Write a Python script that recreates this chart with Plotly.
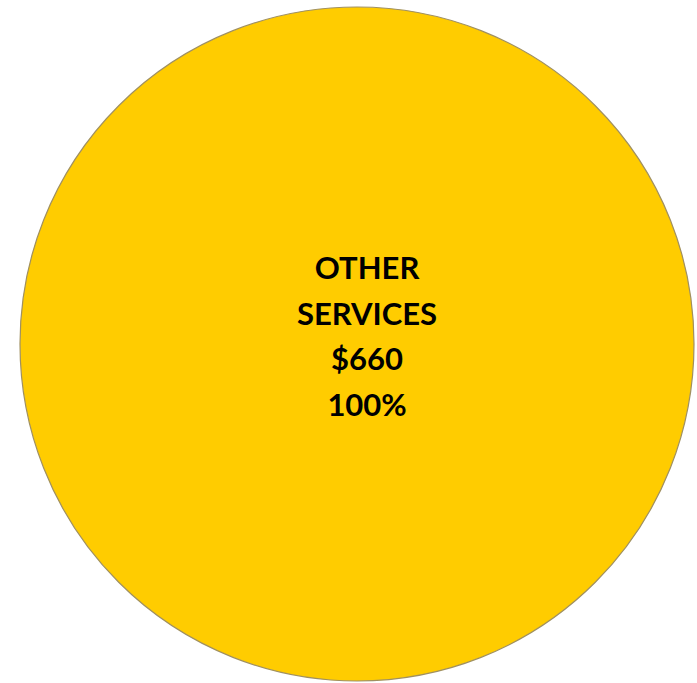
import plotly.graph_objects as go

# Spending breakdown
labels = ["OTHER SERVICES"]
values = [660]
colors = ["#FFCC00"]

W, H = 697, 683
dom_x = [20 / W, 694 / W]
dom_y = [2 / H, 676 / H]

fig = go.Figure(
    go.Pie(
        labels=labels,
        values=values,
        marker=dict(colors=colors, line=dict(color="#a09060", width=1.2)),
        textinfo="none",
        sort=False,
        showlegend=False,
        hoverinfo="skip",
        domain=dict(x=dom_x, y=dom_y),
    )
)

# centre label: category words, amount and share, one per line
total = sum(values)
lines = labels[0].split(" ") + [f"${values[0]:,.0f}", f"{values[0] / total:.0%}"]
label_text = "<b>" + "<br>".join(
    f"<span style='font-size:31px'>{ln}</span>" for ln in lines
) + "</b>"

fig.add_annotation(
    x=sum(dom_x) / 2,
    y=sum(dom_y) / 2,
    xref="paper",
    yref="paper",
    text=label_text,
    showarrow=False,
    xshift=10,
    yshift=9,
    font=dict(family="Lato", size=35, color="#000000"),
)

fig.update_layout(
    width=W,
    height=H,
    margin=dict(l=0, r=0, t=0, b=0),
    paper_bgcolor="white",
    plot_bgcolor="white",
)

fig.write_html("out.html")
